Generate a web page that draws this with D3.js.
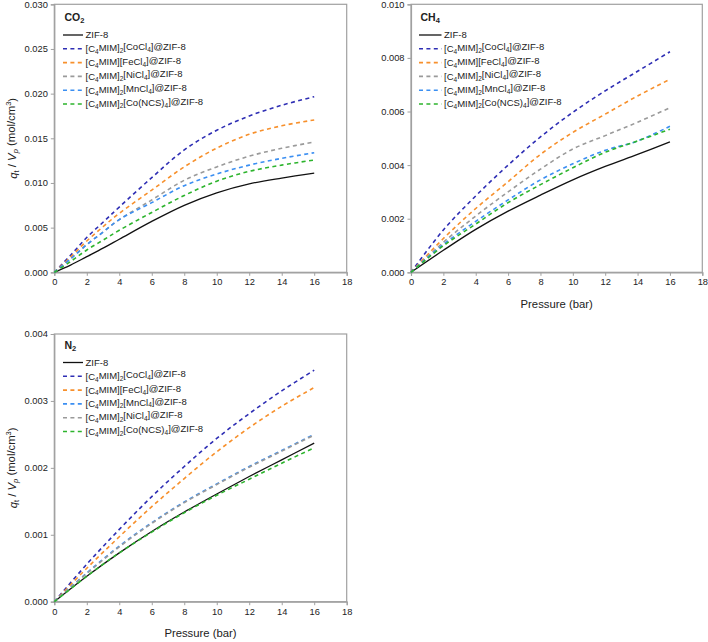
<!DOCTYPE html>
<html><head><meta charset="utf-8">
<script src="https://cdn.jsdelivr.net/npm/d3@7"></script>
<style>
html,body{margin:0;padding:0;background:#fff;}
text{font-family:"Liberation Sans",Arial,sans-serif;fill:#222;}
</style></head>
<body><svg id="chart" width="708" height="642"></svg>
<script>
// ---------- data ----------
const pressureCO2 = [0, 1, 2, 3, 4, 6, 8, 10, 12, 14, 16];
const pressureCH4 = [0, 2, 4, 6, 8, 10, 12, 14, 16];
const pressureN2  = [0, 2, 4, 6, 8, 10, 12, 14, 16];

const co2_ZIF8   = [0, 0.0008, 0.00175, 0.0027, 0.0037, 0.0057, 0.0075, 0.0089, 0.0099, 0.01055, 0.0111];
const co2_CoCl4  = [0, 0.0019, 0.0039, 0.0056, 0.0073, 0.0106, 0.0137, 0.0159, 0.0175, 0.0187, 0.01966];
const co2_FeCl4  = [0, 0.0017, 0.0035, 0.0051, 0.0066, 0.0092, 0.0118, 0.0139, 0.01545, 0.0164, 0.01705];
const co2_NiCl4  = [0, 0.0015, 0.0031, 0.0045, 0.0059, 0.0081, 0.0103, 0.0118, 0.0130, 0.01388, 0.01458];
const co2_MnCl4  = [0, 0.0015, 0.0031, 0.0045, 0.0059, 0.0078, 0.0097, 0.0110, 0.0120, 0.01276, 0.01339];
const co2_CoNCS4 = [0, 0.0012, 0.0025, 0.0036, 0.0047, 0.0067, 0.0086, 0.0102, 0.0113, 0.0120, 0.01257];

const ch4_ZIF8   = [0, 0.00082, 0.0016, 0.00228, 0.00288, 0.00345, 0.00395, 0.0044, 0.00487];
const ch4_CoCl4  = [0, 0.00158, 0.00285, 0.0040, 0.00505, 0.00597, 0.00677, 0.0075, 0.00823];
const ch4_FeCl4  = [0, 0.00126, 0.00238, 0.00338, 0.0044, 0.00522, 0.0059, 0.00658, 0.0072];
const ch4_NiCl4  = [0, 0.00112, 0.0021, 0.0030, 0.00385, 0.0046, 0.0051, 0.0056, 0.00614];
const ch4_MnCl4  = [0, 0.00104, 0.0019, 0.0027, 0.00345, 0.00405, 0.00455, 0.0049, 0.00545];
const ch4_CoNCS4 = [0, 0.00099, 0.0018, 0.0026, 0.00327, 0.0039, 0.00448, 0.0049, 0.00534];

const n2_ZIF8    = [0, 0.00038, 0.00073, 0.00105, 0.00134, 0.00161, 0.00187, 0.00212, 0.00237];
const n2_CoCl4   = [0, 0.00056, 0.00108, 0.00157, 0.00202, 0.00244, 0.00281, 0.00315, 0.00346];
const n2_FeCl4   = [0, 0.0005, 0.00097, 0.00142, 0.00184, 0.00224, 0.0026, 0.00292, 0.0032];
const n2_MnCl4   = [0, 0.00043, 0.00083, 0.00118, 0.00149, 0.00176, 0.00202, 0.00226, 0.0025];
const n2_NiCl4   = [0, 0.00042, 0.00082, 0.00117, 0.00148, 0.00175, 0.00201, 0.00225, 0.00249];
const n2_CoNCS4  = [0, 0.00038, 0.00073, 0.00104, 0.00133, 0.00159, 0.00183, 0.00207, 0.0023];

const xTicks = [0, 2, 4, 6, 8, 10, 12, 14, 16, 18];
const yTicksCO2 = [0, 0.005, 0.010, 0.015, 0.020, 0.025, 0.030];
const yTicksCH4 = [0, 0.002, 0.004, 0.006, 0.008, 0.010];
const yTicksN2  = [0, 0.001, 0.002, 0.003, 0.004];

const labelZIF  = "ZIF-8";
const labelCo   = "[C_4MIM]_2[CoCl_4]@ZIF-8";
const labelFe   = "[C_4MIM][FeCl_4]@ZIF-8";
const labelNi   = "[C_4MIM]_2[NiCl_4]@ZIF-8";
const labelMn   = "[C_4MIM]_2[MnCl_4]@ZIF-8";
const labelNCS  = "[C_4MIM]_2[Co(NCS)_4]@ZIF-8";

const colZIF = "#111111", colCo = "#2e2eb4", colFe = "#f7902c", colNi = "#9a9a9a", colMn = "#3b8ff2", colNCS = "#2db42d";

// ---------- panels ----------
const panels = [
  { title: "CO_2", left: 54.3, right: 346.7, top: 4.3, bottom: 272.3, ymax: 0.030, yTicks: yTicksCO2,
    xTitle: false, yTitle: true, legX: 63, legW: 20, legY: 21, x: pressureCO2,
    series: [
      {label: labelZIF, color: colZIF, dash: null, v: co2_ZIF8},
      {label: labelCo,  color: colCo,  dash: "4,3.4", v: co2_CoCl4},
      {label: labelFe,  color: colFe,  dash: "4,3.4", v: co2_FeCl4},
      {label: labelNi,  color: colNi,  dash: "4,3.4", v: co2_NiCl4},
      {label: labelMn,  color: colMn,  dash: "4,3.4", v: co2_MnCl4},
      {label: labelNCS, color: colNCS, dash: "4,3.4", v: co2_CoNCS4}
    ]},
  { title: "CH_4", left: 411, right: 702.3, top: 4.3, bottom: 272.3, ymax: 0.010, yTicks: yTicksCH4,
    xTitle: true, yTitle: false, legX: 419, legW: 22.5, legY: 21, x: pressureCH4,
    series: [
      {label: labelZIF, color: colZIF, dash: null, v: ch4_ZIF8},
      {label: labelCo,  color: colCo,  dash: "4,3.4", v: ch4_CoCl4},
      {label: labelFe,  color: colFe,  dash: "4,3.4", v: ch4_FeCl4},
      {label: labelNi,  color: colNi,  dash: "4,3.4", v: ch4_NiCl4},
      {label: labelMn,  color: colMn,  dash: "4,3.4", v: ch4_MnCl4},
      {label: labelNCS, color: colNCS, dash: "4,3.4", v: ch4_CoNCS4}
    ]},
  { title: "N_2", left: 54.3, right: 346.7, top: 334, bottom: 601.7, ymax: 0.004, yTicks: yTicksN2,
    xTitle: true, yTitle: true, legX: 63, legW: 20, legY: 348.5, x: pressureN2,
    series: [
      {label: labelZIF, color: colZIF, dash: null, v: n2_ZIF8},
      {label: labelCo,  color: colCo,  dash: "4,3.4", v: n2_CoCl4},
      {label: labelFe,  color: colFe,  dash: "4,3.4", v: n2_FeCl4},
      {label: labelMn,  color: colMn,  dash: "4,3.4", v: n2_MnCl4},
      {label: labelNi,  color: colNi,  dash: "4,3.4", v: n2_NiCl4},
      {label: labelNCS, color: colNCS, dash: "4,3.4", v: n2_CoNCS4}
    ]}
];

const svg = d3.select("#chart");
svg.append("rect").attr("width",708).attr("height",642).attr("fill","#fff");

// text with "_x" subscripts
function richText(sel, str, subSize) {
  const parts = [];
  let buf = "";
  for (let i = 0; i < str.length; i++) {
    if (str[i] === "_" && i + 1 < str.length) {
      if (buf) parts.push({t: buf, sub: false});
      buf = "";
      parts.push({t: str[i+1], sub: true});
      i++;
    } else buf += str[i];
  }
  if (buf) parts.push({t: buf, sub: false});
  let down = false;
  parts.forEach(p => {
    const ts = sel.append("tspan").text(p.t);
    if (p.sub && !down) { ts.attr("dy", "0.3em").attr("font-size", subSize); down = true; }
    else if (p.sub) { ts.attr("font-size", subSize); }
    else if (!p.sub && down) { ts.attr("dy", "-0.3em"); down = false; }
  });
}

const axisColor = "#a0a0a0";

panels.forEach(P => {
  const x = d3.scaleLinear().domain([0, 18]).range([P.left, P.right]);
  const y = d3.scaleLinear().domain([0, P.ymax]).range([P.bottom, P.top]);
  const g = svg.append("g");

  // frame
  g.append("rect").attr("x", P.left).attr("y", P.top)
    .attr("width", P.right - P.left).attr("height", P.bottom - P.top)
    .attr("fill", "none").attr("stroke", axisColor).attr("stroke-width", 1.2);

  // axes
  const xa = g.append("g").attr("transform", `translate(0,${P.bottom})`)
    .call(d3.axisBottom(x).tickValues(xTicks).tickFormat(d3.format("d")).tickSize(3.5).tickPadding(3));
  const ya = g.append("g").attr("transform", `translate(${P.left},0)`)
    .call(d3.axisLeft(y).tickValues(P.yTicks).tickFormat(d3.format(".3f")).tickSize(3.5).tickPadding(3));
  [xa, ya].forEach(a => {
    a.select(".domain").attr("stroke", axisColor).attr("stroke-width", 1.2);
    a.selectAll(".tick line").attr("stroke", axisColor).attr("stroke-width", 1);
    a.selectAll(".tick text").attr("font-size", 9.3).attr("fill", "#222")
      .attr("font-family", "Liberation Sans, Arial, sans-serif");
  });

  // lines
  const line = d3.line().x((d, i) => x(P.x[i])).y(d => y(d)).curve(d3.curveCatmullRom.alpha(0.5));
  P.series.forEach(s => {
    g.append("path").datum(s.v).attr("d", line).attr("fill", "none")
      .attr("stroke", s.color).attr("stroke-width", s.dash ? 1.6 : 1.3)
      .attr("stroke-dasharray", s.dash);
  });

  // title
  const t = g.append("text").attr("x", P.legX + 1.5).attr("y", P.legY)
    .attr("font-size", 10.5).attr("font-weight", "bold");
  richText(t, P.title, 7.5);

  // legend
  P.series.forEach((s, i) => {
    const cy = P.legY + 14 + i * 13.8;
    g.append("line").attr("x1", P.legX).attr("x2", P.legX + P.legW)
      .attr("y1", cy).attr("y2", cy).attr("stroke", s.color)
      .attr("stroke-width", s.dash ? 1.6 : 1.3).attr("stroke-dasharray", s.dash);
    const tx = g.append("text").attr("x", P.legX + P.legW + 2.5).attr("y", cy + 3.4)
      .attr("font-size", 9.5);
    richText(tx, s.label, 6.5);
  });

  if (P.xTitle) {
    g.append("text").attr("x", (P.left + P.right) / 2).attr("y", P.bottom + 35.5)
      .attr("text-anchor", "middle").attr("font-size", 11.3).text("Pressure (bar)");
  }
  if (P.yTitle) {
    const yt = g.append("text")
      .attr("transform", `translate(17,${(P.top + P.bottom) / 2}) rotate(-90)`)
      .attr("text-anchor", "middle").attr("font-size", 11.3);
    yt.append("tspan").attr("font-style", "italic").text("q");
    yt.append("tspan").attr("font-size", 7.5).attr("dy", "0.3em").text("t");
    yt.append("tspan").attr("dy", "-0.3em").text(" / ");
    yt.append("tspan").attr("font-style", "italic").text("V");
    yt.append("tspan").attr("font-size", 7.5).attr("font-style", "italic").attr("dy", "0.3em").text("p");
    yt.append("tspan").attr("dy", "-0.3em").text("  (mol/cm");
    yt.append("tspan").attr("font-size", 7.5).attr("dy", "-0.45em").text("3");
    yt.append("tspan").attr("dy", "0.45em").text(")");
  }
});
</script>
</body></html>
